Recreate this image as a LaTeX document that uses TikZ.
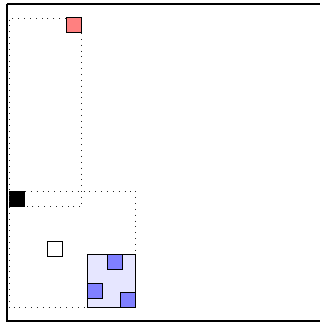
\documentclass[tikz,border=0pt]{standalone}
\usepackage{xcolor}
\usepackage{tikz}
\usetikzlibrary{positioning,calc}
\definecolor{cellR}{HTML}{FF8080}
\definecolor{cellB}{HTML}{8080FF}
\definecolor{soft}{HTML}{E6E6FF}

\begin{document}
\begin{tikzpicture}[
  x=0.03cm,y=-0.03cm,
  cell/.style={draw=black,line width=0.8pt,inner sep=0pt,minimum size=0.45cm},
  region/.style={draw=black!85,line width=0.8pt,dash pattern=on 0.8pt off 4.2pt},
  frame/.style={draw=black,line width=1.7pt}
]
\useasboundingbox (0,0) rectangle (320,324);
\draw[frame] (7,4) -- (322,4) (7,4) -- (7,321) -- (322,321);

\node[cell,fill=cellR,anchor=north west]   (red)   at (66,17)  {};
\node[cell,fill=black,anchor=north west]   (blk)   at (9,191)  {};
\node[cell,fill=white,anchor=north west]   (wht)   at (47,241) {};
\node[draw=black,line width=0.8pt,fill=soft,inner sep=0pt,
      minimum width=1.44cm,minimum height=1.59cm,anchor=north west] (box) at (87,254) {};
\node[cell,fill=cellB,anchor=north west]   (b1)    at (107,254) {};
\node[cell,fill=cellB,anchor=north west]   (b2)    at (87,283)  {};
\node[cell,fill=cellB,anchor=south east]   (b3)    at (box.south east) {};
\coordinate (nw) at (9,18);

% outer region
\draw[region] (red.north west |- nw) -- (nw) -- (nw |- box.south west) -- (box.south west);
% upper region
\draw[region] (red.south east) |- (blk.south east);
% lower region
\draw[region] (blk.north east) -| (box.north east);
\end{tikzpicture}
\end{document}
